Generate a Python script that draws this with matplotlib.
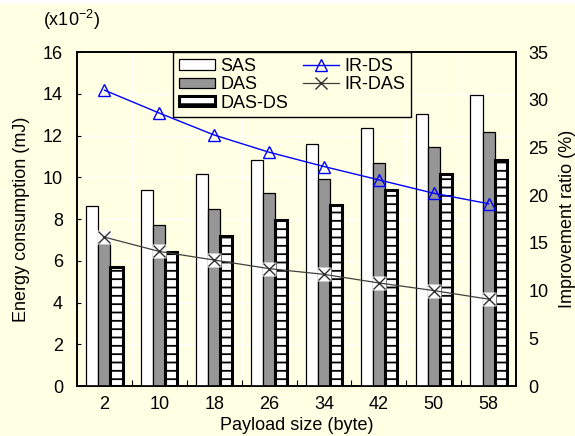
import numpy as np
import matplotlib
matplotlib.use("Agg")
import matplotlib.pyplot as plt
from matplotlib.patches import Rectangle
from matplotlib.ticker import FixedLocator, NullFormatter

# payload size categories and measured values
payload = ["2", "10", "18", "26", "34", "42", "50", "58"]
sas = [8.62, 9.39, 10.14, 10.83, 11.59, 12.36, 13.05, 13.93]
das = [6.85, 7.70, 8.46, 9.23, 9.90, 10.67, 11.43, 12.17]
das_ds = [5.72, 6.43, 7.19, 7.95, 8.65, 9.39, 10.16, 10.83]
ir_ds = [31.0, 28.6, 26.3, 24.5, 23.0, 21.6, 20.2, 19.1]
ir_das = [15.6, 14.1, 13.2, 12.3, 11.7, 10.8, 10.0, 9.1]

BG = "#FFFFE3"
FS = 13

plt.rcParams.update({
    "font.family": ["Liberation Sans", "DejaVu Sans"],
    "font.size": FS,
    "mathtext.fontset": "custom",
    "mathtext.rm": "Liberation Sans",
    "mathtext.it": "Liberation Sans:italic",
    "hatch.linewidth": 1.3,
    "hatch.color": "black",
})

fig = plt.figure(figsize=(5.75, 4.36), dpi=100, facecolor=BG)
fig.patches.append(Rectangle((0, 1 - 4 / 436), 1, 4 / 436, transform=fig.transFigure,
                             facecolor="white", edgecolor="none"))
ax = fig.add_axes([77 / 575, 50 / 436, 439 / 575, 334 / 436])
ax.set_facecolor(BG)
ax.set_axisbelow(True)

x = np.arange(len(payload))
w = 0.22
b1 = ax.bar(x - w, sas, w, color="white", edgecolor="black", linewidth=0.9, label="SAS", zorder=3)
b2 = ax.bar(x, das, w, color="#969696", edgecolor="black", linewidth=0.9, label="DAS", zorder=3)
b3 = ax.bar(x + w, das_ds, w, color="white", edgecolor="black", linewidth=2.2, hatch="--",
            label="DAS-DS", zorder=3)

ax.set_xlim(-0.5, len(payload) - 0.5)
ax.set_ylim(0, 16)
ax.set_yticks(np.arange(0, 17, 2))
ax.set_xticks(x)
ax.set_xticklabels(payload)
ax.xaxis.set_minor_locator(FixedLocator(np.arange(0.5, len(payload) - 0.5, 1)))
ax.xaxis.set_minor_formatter(NullFormatter())
ax.tick_params(axis="x", which="major", length=0, pad=7)
ax.tick_params(axis="x", which="minor", direction="in", length=4, width=0.8)
ax.tick_params(axis="y", direction="in", length=3, width=0.8, pad=10)
ax.grid(axis="y", which="major", color="white", linewidth=1.0)
ax.grid(axis="x", which="minor", color="white", linewidth=1.0)
for s in ax.spines.values():
    s.set_linewidth(1.2)
ax.set_xlabel("Payload size (byte)", labelpad=3)
ax.set_ylabel("Energy consumption (mJ)", labelpad=9)

ax2 = ax.twinx()
ax2.set_ylim(0, 35)
ax2.set_yticks(np.arange(0, 36, 5))
ax2.tick_params(axis="y", length=0, pad=9)
for s in ax2.spines.values():
    s.set_linewidth(1.2)
l1, = ax2.plot(x, ir_ds, color="blue", linewidth=1.0, marker="^", markersize=8.5,
               markerfacecolor="none", markeredgecolor="blue", markeredgewidth=1.0,
               label="IR-DS", zorder=4)
ax2.plot(x, ir_das, linestyle="none", marker="s", markersize=9.5, markerfacecolor="white",
         markeredgecolor="none", zorder=4)
l2, = ax2.plot(x, ir_das, color="#404040", linewidth=0.9, marker="x", markersize=8,
               markeredgecolor="#303030", markeredgewidth=1.0, label="IR-DAS", zorder=5)
ax2.set_ylabel("Improvement ratio (%)")
ax2.yaxis.set_label_coords(1.098, 0.5)

leg = ax2.legend([b1, b2, b3, l1, l2], ["SAS", "DAS", "DAS-DS", "IR-DS", "IR-DAS"],
                 ncol=2, loc="upper left", bbox_to_anchor=(0.219, 1.0), borderaxespad=0,
                 fancybox=False, frameon=True, framealpha=1, facecolor=BG, edgecolor="black",
                 handlelength=2.0, handleheight=0.5, handletextpad=0.3, columnspacing=0.8,
                 labelspacing=0.08, borderpad=0.32, fontsize=FS)
leg.get_frame().set_linewidth(1.0)
leg.set_zorder(10)

fig.text(43 / 575, 1 - 20 / 436, r"(x10$^{-2}$)", ha="left", va="center", fontsize=FS)

fig.savefig("out.png", dpi=100, facecolor=BG)
